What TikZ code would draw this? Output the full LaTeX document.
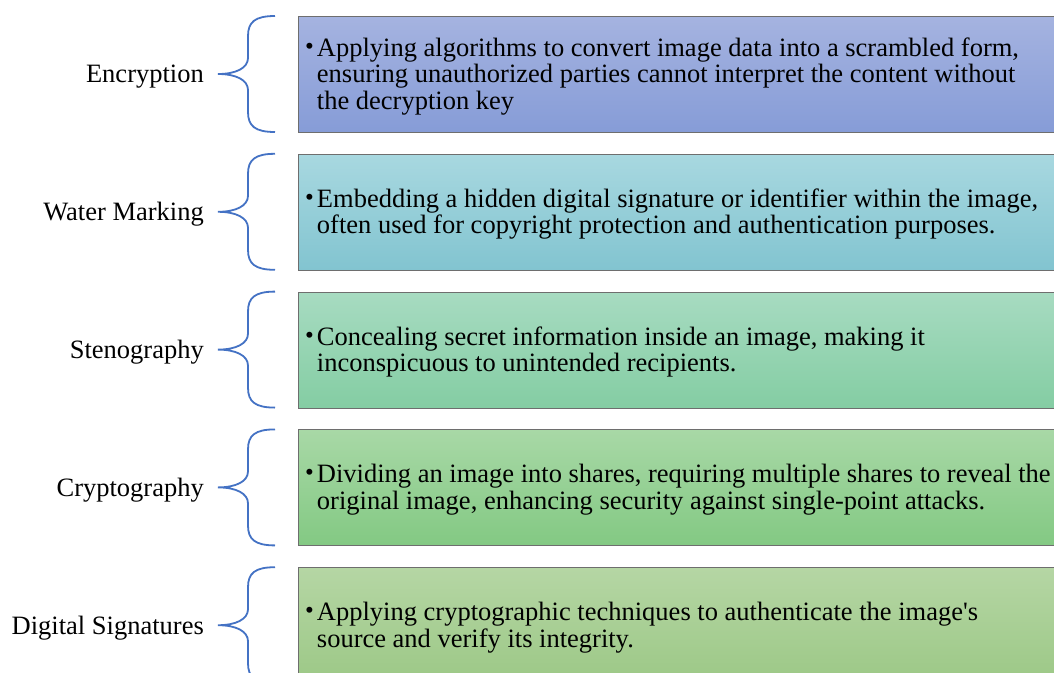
\documentclass[tikz,border=0pt]{standalone}
\usepackage{fontspec}
\setmainfont{Liberation Serif}
\definecolor{braceblue}{HTML}{4472C4}
\definecolor{edgegray}{HTML}{6E6E6E}
\definecolor{aT}{HTML}{A5B3E0}\definecolor{aB}{HTML}{869CD7}
\definecolor{bT}{HTML}{A8D8E0}\definecolor{bB}{HTML}{82C4D0}
\definecolor{cT}{HTML}{A7DBC1}\definecolor{cB}{HTML}{84CDA3}
\definecolor{dT}{HTML}{A8D8A6}\definecolor{dB}{HTML}{83C983}
\definecolor{eT}{HTML}{B5D6A4}\definecolor{eB}{HTML}{9CC886}
\tikzset{
  itembox/.style={draw=edgegray, line width=1pt, rectangle, anchor=north west,
    minimum width=780pt, minimum height=116pt, inner sep=0pt},
  itemtext/.style={anchor=west, inner sep=0pt,
    font=\fontsize{26.5}{26.6}\selectfont},
  label/.style={anchor=east, inner sep=0pt, font=\fontsize{26.5}{26.6}\selectfont},
  bracepath/.style={draw=braceblue, line width=1.8pt}
}
\newcommand{\bul}[1]{\begin{tabular}{@{}l@{\hspace{3pt}}l@{}}\raisebox{2pt}{\fontsize{25}{25}\selectfont •} & \begin{tabular}[t]{@{}l@{}}#1\end{tabular}\end{tabular}}
\begin{document}
\begin{tikzpicture}[x=1pt,y=-1pt]
\clip (0,0) rectangle (1054,672);
\fill[white] (0,0) rectangle (1054,672);
\foreach \i/\ct/\cb/\lab/\txt in {
 0/aT/aB/Encryption/{Applying algorithms to convert image data into a scrambled form,\\ensuring unauthorized parties cannot interpret the content without\\the decryption key},
 1/bT/bB/Water Marking/{Embedding a hidden digital signature or identifier within the image,\\often used for copyright protection and authentication purposes.},
 2/cT/cB/Stenography/{Concealing secret information inside an image, making it\\inconspicuous to unintended recipients.},
 3/dT/dB/Cryptography/{Dividing an image into shares, requiring multiple shares to reveal the\\original image, enhancing security against single-point attacks.},
 4/eT/eB/Digital Signatures/{Applying cryptographic techniques to authenticate the image\textquotesingle s\\source and verify its integrity.}}
{
  \pgfmathsetmacro{\top}{16+137.8*\i}
  \pgfmathsetmacro{\mid}{\top+58}
  \pgfmathsetmacro{\bot}{\top+116}
  \node[itembox, top color=\ct, bottom color=\cb] (box\i) at (298,\top) {};
  \node[itemtext] (txt\i) at (305,\mid+3.5) {\bul{\txt}};
  \node[label] (lab\i) at (204,\mid+2.5) {\lab};
  \coordinate (tip\i) at (218,\mid);
  \draw[bracepath] (275,\top) .. controls (255,\top) and (248,\top+6) .. (248,\top+20)
    -- (248,\mid-16) .. controls (248,\mid-6) and (236,\mid) .. (tip\i)
    .. controls (236,\mid) and (248,\mid+6) .. (248,\mid+16)
    -- (248,\bot-20) .. controls (248,\bot-6) and (255,\bot) .. (275,\bot);
}
\end{tikzpicture}
\end{document}
